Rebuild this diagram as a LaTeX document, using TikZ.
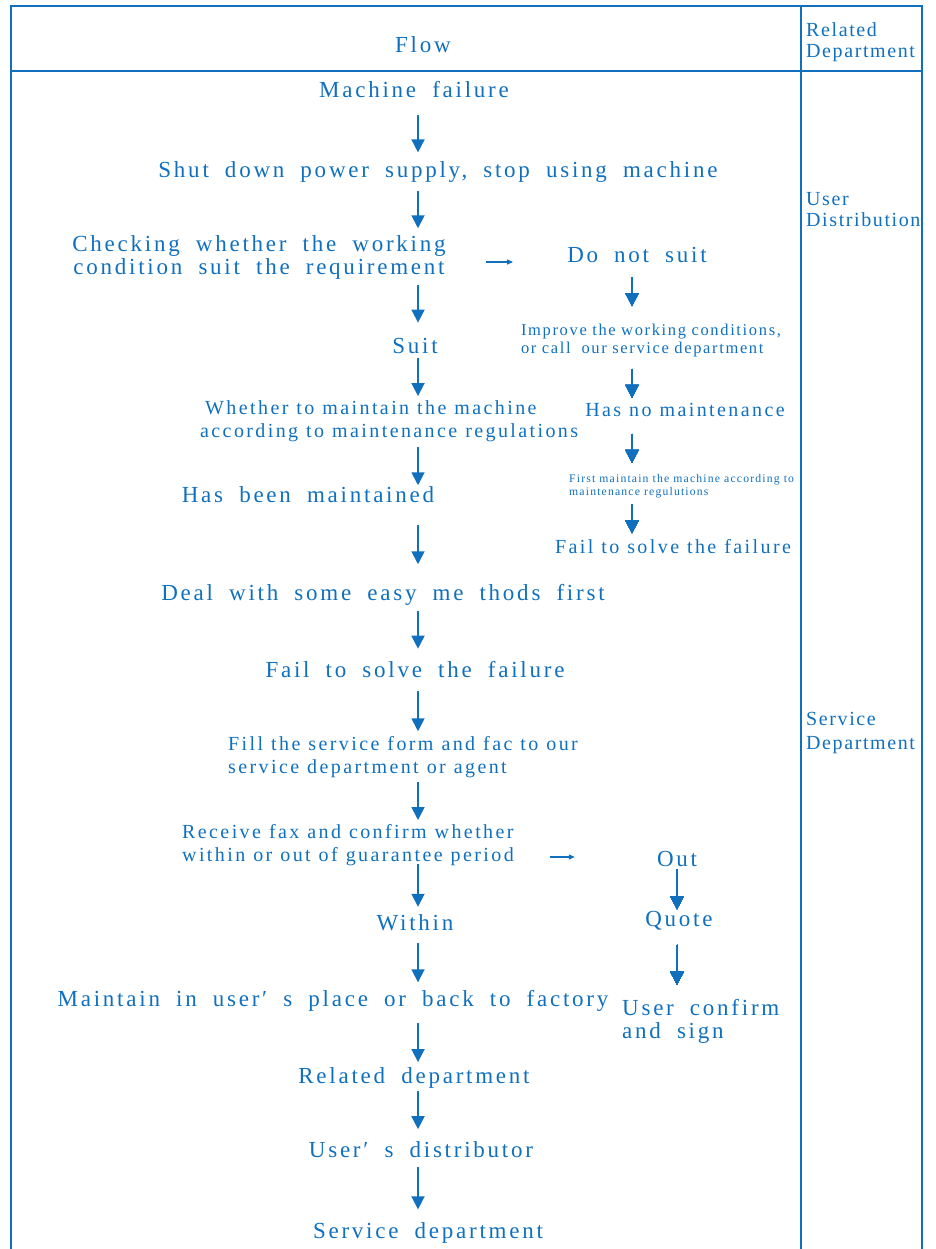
\documentclass[tikz,border=0pt]{standalone}
\usepackage{fontspec}
\setmainfont{Liberation Serif}
\usetikzlibrary{arrows.meta,calc}
\definecolor{fc}{RGB}{16,112,190}
\newcommand\fBig{\fontsize{23}{23}\selectfont\addfontfeatures{LetterSpace=12}\spaceskip 0.7em\relax}
\newcommand\fMid{\fontsize{20}{23}\selectfont\addfontfeatures{LetterSpace=12}\spaceskip 0.4em\relax}
\newcommand\fSml{\fontsize{16.5}{18}\selectfont\addfontfeatures{LetterSpace=10}\spaceskip 0.33em\relax}
\newcommand\fTny{\fontsize{11.7}{13}\selectfont\addfontfeatures{LetterSpace=10}}
\newcommand\fDept{\fontsize{20}{21}\selectfont\addfontfeatures{LetterSpace=8}}
\newcommand\fDeptB{\fontsize{20}{24}\selectfont\addfontfeatures{LetterSpace=8}}
\tikzset{
  txt/.style={text=fc, inner sep=0pt, anchor=center},
  big/.style={txt, font=\fBig},
  mid/.style={txt, font=\fMid},
  sml/.style={txt, font=\fSml},
  tny/.style={txt, font=\fTny},
  dept/.style={txt, anchor=west, align=left, font=\fDept},
  arr/.style={draw=fc, line width=1.8pt, -{Triangle[width=13pt,length=13pt]}},
  harr/.style={draw=fc, line width=1.2pt, -{Triangle[width=5pt,length=6pt]}},
  frame/.style={draw=fc, line width=2pt},
}
% connector of fixed length (#4) centred in the gap between two nodes, shifted by #5
\newcommand\conn[5]{\draw[arr] ($(#1.south -| #3)!.5!(#2.north -| #3)+(0,#5-#4/2)$) -- ++(0,#4);}
\begin{document}
\begin{tikzpicture}[x=1pt,y=-1pt]
\useasboundingbox (0,0) rectangle (935,1249);
% table frame
\draw[frame] (11,1250) -- (11,6) -- (922,6) -- (922,1250);
\draw[frame] (11,71) -- (922,71);
\draw[frame] (801,6) -- (801,1250);
% header
\node[big] (flow) at (423,45) {Flow};
\node[dept] (hd) at (806,42) {Related\\Department};
\node[dept] (dUser) at (806,210) {User\\Distribution};
\node[dept, font=\fDeptB] (dServ) at (806,733) {Service\\Department};
% column coordinates
\coordinate (cA) at (418,0);
\coordinate (cB) at (632,0);
\coordinate (cC) at (677,0);
% main column
\node[big] (n1) at (414,90) {Machine failure};
\node[big] (n2) at (438,172) {Shut down power supply, stop using machine};
\node[big, align=center] (n3) at (259,257) {Checking whether the working\\condition suit the requirement};
\node[big] (n4) at (415,346) {Suit};
\node[mid, anchor=west, align=left] (n5) at (200,421) {\hspace*{5pt}Whether to maintain the machine\\according to maintenance regulations};
\node[big] (n6) at (308,495) {Has been maintained};
\node[big] (n7) at (383,595) {Deal with some easy me thods first};
\node[big] (n8) at (415,670) {Fail to solve the failure};
\node[mid, anchor=west, align=left] (n9) at (228,757) {Fill the service form and fac to our\\service department or agent};
\node[mid, anchor=west, align=left] (n10) at (182,845) {Receive fax and confirm whether\\within or out of guarantee period};
\node[big] (n11) at (415,923) {Within};
\node[big] (n12) at (333,1001) {Maintain in user′ s place or back to factory};
\node[big] (n13) at (414,1078) {Related department};
\node[big] (n14) at (421,1150) {User′ s distributor};
\node[big] (n15) at (428,1233) {Service department};
% right column
\node[big] (r1) at (637,255) {Do not suit};
\node[sml, align=left] (r2) at (651,341) {Improve the working conditions,\\or call\ \ our service department};
\node[mid] (r3) at (685,410) {Has no maintenance};
\node[tny, anchor=west, align=left] (r4) at (569,486) {First maintain the machine according to\\maintenance regulutions};
\node[mid] (r5) at (673,547) {Fail to solve the failure};
\node[big] (o1) at (677,859) {Out};
\node[big] (o2) at (679,921) {Quote};
\node[big, anchor=west, align=left] (o3) at (622,1021) {User confirm\\and sign};
% connectors
\foreach \a/\b/\l/\s in {n1/n2/37/4,n2/n3/37/1,n3/n4/38/-5,n4/n5/38/0,n5/n6/38/2,n6/n7/39/1,n7/n8/38/-4,n8/n9/40/4,n9/n10/38/0,n10/n11/43/-5,n11/n12/39/2,n12/n13/39/3,n13/n14/38/-5,n14/n15/42/-2}
  \conn{\a}{\b}{cA}{\l}{\s}
\foreach \a/\b/\s in {r1/r2/-2,r2/r3/3,r3/r4/3,r4/r5/0}
  \conn{\a}{\b}{cB}{29}{\s}
\foreach \a/\b in {o1/o2,o2/o3}
  \conn{\a}{\b}{cC}{40}{0}
\coordinate (h1) at (0,262);
\coordinate (h2) at (0,857);
\draw[harr, shorten <=40pt, shorten >=54pt] (n3.east |- h1) -- (r1.west |- h1);
\draw[harr, shorten <=36pt, shorten >=82pt] (n10.east |- h2) -- (o1.west |- h2);
\end{tikzpicture}
\end{document}
